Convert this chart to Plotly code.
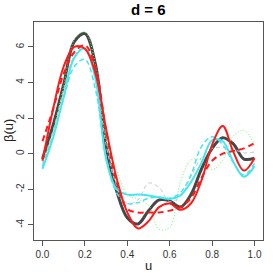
import plotly.graph_objects as go

u = [0.00, 0.05, 0.10, 0.15, 0.20, 0.25, 0.30, 0.35, 0.40, 0.45, 0.50,
     0.55, 0.60, 0.65, 0.70, 0.75, 0.80, 0.85, 0.90, 0.95, 1.00]

beta_true = [-0.3, 1.6, 3.9, 6.3, 6.75, 5.0, 0.4, -2.1, -3.6, -3.95, -3.2,
             -2.6, -2.65, -3.0, -2.3, -0.85, 0.3, 0.9, 0.55, -0.3, -0.25]
red_solid = [-0.4, 2.5, 4.9, 6.0, 5.9, 4.5, 1.4, -1.4, -3.3, -4.2, -3.8,
             -3.0, -2.8, -3.15, -2.8, -1.5, 0.5, 1.55, 0.1, -0.95, -0.25]
red_dash = [0.7, 2.5, 4.5, 5.7, 6.1, 4.8, 1.3, -1.6, -3.1, -3.3, -3.3,
            -3.3, -3.2, -3.0, -2.5, -1.35, -0.4, 0.0, 0.15, 0.3, 0.6]
cyan_solid = [-0.85, 0.9, 3.2, 5.4, 5.9, 4.2, -0.3, -2.0, -2.3, -2.3, -2.35,
              -2.45, -2.55, -2.35, -1.6, -0.5, 0.75, 0.7, -0.45, -1.3, -0.7]
cyan_dash = [-0.7, 1.0, 3.1, 4.9, 5.3, 3.6, -0.2, -2.2, -2.8, -2.75, -2.5,
             -2.45, -2.5, -2.2, -1.2, 0.4, 0.95, 0.5, -0.5, -1.2, -0.55]
green_dot = [-0.6, 1.2, 3.8, 6.4, 6.85, 5.0, 0.8, -0.9, -2.3, -2.55, -2.9,
             -4.25, -4.15, -1.6, -0.35, -0.35, -0.9, -0.35, 1.0, 1.3, 0.5]
gray_dash = [-0.5, 1.3, 3.6, 5.5, 6.0, 4.5, 0.5, -1.8, -2.8, -2.6, -1.65,
             -1.9, -2.7, -2.4, -1.3, -0.2, 0.3, 0.35, 0.25, 0.05, 0.1]

x_ticks = [0.0, 0.2, 0.4, 0.6, 0.8, 1.0]
x_tick_labels = ["0.0", "0.2", "0.4", "0.6", "0.8", "1.0"]
y_ticks = [-4, -2, 0, 2, 4, 6]
y_tick_labels = ["-4", "-2", "0", "2", "4", "6"]

series = [
    (beta_true, "#474747", 3, "solid"),
    (gray_dash, "#C8C8C8", 1, "4px,3px"),
    (green_dot, "#6CF56C", 1, "1px,2px"),
    (cyan_dash, "#45E6EE", 1.5, "5px,3px"),
    (cyan_solid, "#45E6EE", 2, "solid"),
    (red_dash, "#FF1A1A", 2, "6px,4px"),
    (red_solid, "#FF1A1A", 2, "solid"),
]

fig = go.Figure()
for ys, col, w, dash in series:
    fig.add_trace(go.Scatter(x=u, y=ys, mode="lines",
                             line=dict(color=col, width=w, dash=dash,
                                       shape="spline", smoothing=1.0),
                             showlegend=False, hoverinfo="skip"))

axis_common = dict(showgrid=False, zeroline=False, showline=True,
                   linecolor="#555555", linewidth=1, mirror=True,
                   ticks="outside", ticklen=5, tickcolor="#555555",
                   tickfont=dict(family="Liberation Sans, Arial", size=10, color="#333333"))

fig.update_layout(
    width=273, height=273,
    margin=dict(l=34, r=10, t=22, b=33),
    paper_bgcolor="white", plot_bgcolor="white",
    xaxis=dict(range=[-0.04, 1.04], tickvals=x_ticks, ticktext=x_tick_labels,
               **axis_common),
    yaxis=dict(range=[-4.85, 7.4], tickvals=y_ticks, ticktext=y_tick_labels,
               tickangle=-90, **axis_common),
    annotations=[
        dict(text="<b>d = 6</b>", x=0.5, y=1, xref="paper", yref="paper",
             xanchor="center", yanchor="bottom", yshift=2, showarrow=False,
             font=dict(family="Liberation Sans, Arial", size=15, color="black")),
        dict(text="u", x=0.5, y=0, xref="paper", yref="paper",
             xanchor="center", yanchor="top", yshift=-16, showarrow=False,
             font=dict(family="Liberation Sans, Arial", size=13, color="#222222")),
        dict(text="β(u)", x=0, y=0.5, xref="paper", yref="paper",
             xanchor="center", yanchor="middle", xshift=-26, textangle=-90,
             showarrow=False,
             font=dict(family="Liberation Sans, Arial", size=13, color="#222222")),
    ],
)

fig.write_html("out.html",
               config={"displayModeBar": False, "staticPlot": True},
               post_script="document.body.style.margin='0';document.body.style.padding='0';")
